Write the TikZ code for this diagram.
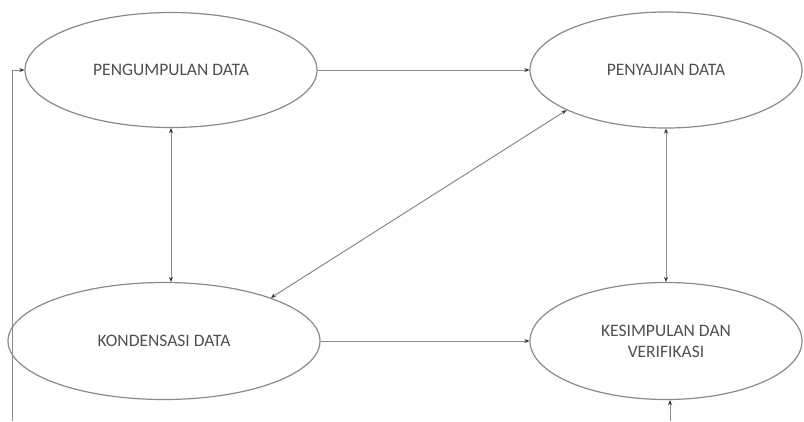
\documentclass[tikz,border=0pt]{standalone}
\usepackage{fontspec}
\setmainfont{Carlito}
\usetikzlibrary{shapes.geometric,arrows.meta}
\definecolor{linegray}{HTML}{8A8A8A}
\definecolor{textgray}{HTML}{505050}
\begin{document}
\begin{tikzpicture}[x=1pt,y=-1pt,
  oval/.style={ellipse, draw=linegray, line width=1.2pt, inner sep=0pt,
    text=textgray, font=\fontsize{17.5}{19}\selectfont, align=center},
  conn/.style={draw=linegray, line width=1pt, -{Stealth[length=5pt,width=4pt,black!80]}},
  biconn/.style={draw=linegray, line width=1pt, {Stealth[length=5pt,width=4pt,black!80]}-{Stealth[length=5pt,width=4pt,black!80]}}]
\useasboundingbox[fill=white] (0,0) rectangle (804,421);
\node[oval, minimum width=292pt, minimum height=115pt] (tl) at (171,70) {PENGUMPULAN DATA};
\node[oval, minimum width=272pt, minimum height=116pt] (tr) at (666,70) {PENYAJIAN DATA};
\node[oval, minimum width=312pt, minimum height=117pt] (bl) at (164,341) {KONDENSASI DATA};
\node[oval, minimum width=272pt, minimum height=117pt] (br) at (666,341) {KESIMPULAN DAN\\[2pt]VERIFIKASI};
\coordinate (loopstart) at (12,421);
\coordinate (feed) at (670,421);
\draw[conn] (tl.east) -- (tr.west);
\draw[conn] (bl.east) -- (br.west);
\draw[biconn] (tl.south) -- (bl.north -| tl.south);
\draw[biconn] (tr.south) -- (br.north);
\draw[biconn] (bl.22) -- (tr.202);
\draw[conn] (feed) -- (feed |- br.south);
\draw[conn] (loopstart) |- (tl.west);
\end{tikzpicture}
\end{document}
